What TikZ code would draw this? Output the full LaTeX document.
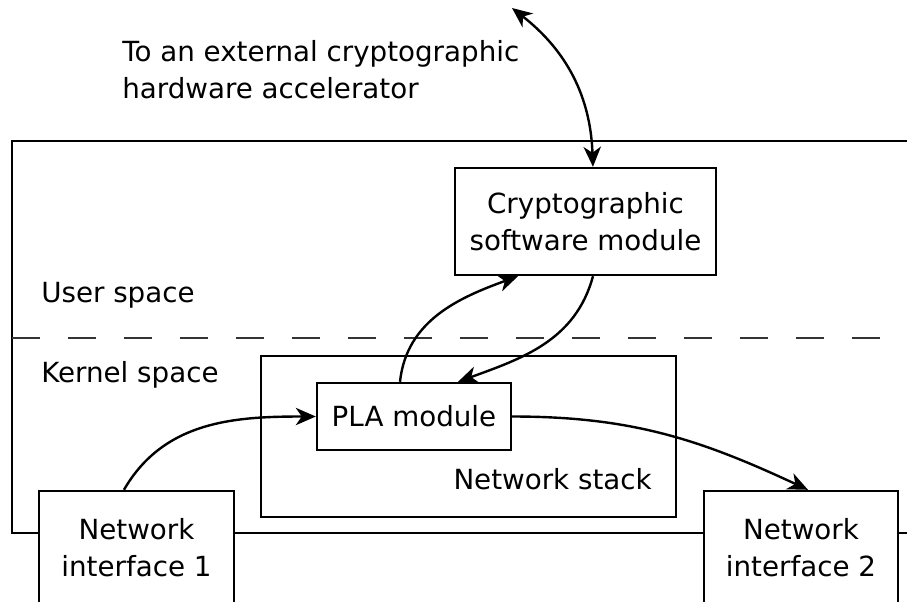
\documentclass[tikz,border=0pt]{standalone}
\usepackage{fontspec}
\setmainfont{DejaVu Sans}
\usetikzlibrary{arrows.meta}
\begin{document}
\begin{tikzpicture}[x=0.75pt,y=-0.75pt,
  txt/.style={font=\fontsize{20.8}{27.75}\selectfont},
  box/.style={txt, draw, line width=1.8pt, fill=white, align=center, inner sep=0pt},
  lbl/.style={txt, inner sep=0pt},
  tip/.tip={Stealth[length=15pt,width=13pt,inset=4.5pt]},
  arr/.style={line width=1.8pt, -tip},
  arrb/.style={line width=1.8pt, tip-tip},
]
\useasboundingbox (0,0) rectangle (907,601);
\clip (0,0) rectangle (907,601);
% outer frame
\draw[line width=1.8pt] (920,141) -| (12,533) -- (920,533);
\draw[line width=2pt, black!80, dash pattern=on 21pt off 21pt] (12,338) -- (920,338);
% labels
\node[lbl, anchor=base west] (user) at (41,302) {User space};
\node[lbl, anchor=base west] (kernel) at (41,382) {Kernel space};
\node[lbl, align=left, anchor=north west] (ext label) at (122,40) {To an external cryptographic\\hardware accelerator};
% boxes
\node[box, minimum width=195.75pt, minimum height=80.25pt] (crypto) at (585.5,221.5) {Cryptographic\\software module};
\node[box, minimum width=311.25pt, minimum height=120.75pt] (stack) at (468.5,436.5) {};
\node[lbl, anchor=base east] (stacklbl) at (652,489) {Network stack};
\node[box, minimum width=145.5pt, minimum height=50.25pt] (pla) at (414,416.5) {PLA module};
\node[box, minimum width=146.25pt, minimum height=84.75pt] (ni1) at (136.5,547.5) {Network\\interface 1};
\node[box, minimum width=145.5pt, minimum height=84.75pt] (ni2) at (801,547.5) {Network\\interface 2};
% connectors
\coordinate (ext) at (512,8);
\draw[arrb] (ext) to[bend left=25] ([xshift=5.6pt]crypto.north);
\draw[arr] ([xshift=-10.5pt]pla.north) to[out=84,in=200] ([xshift=-50.6pt]crypto.south);
\draw[arr] ([xshift=5.6pt]crypto.south) to[out=-105,in=20] ([xshift=33pt]pla.north);
\draw[arr] ([xshift=-9.4pt]ni1.north) to[out=60,in=180] (pla.west);
\draw[arr] (pla.east) to[out=0,in=155] ([xshift=5.25pt]ni2.north);
\end{tikzpicture}
\end{document}
